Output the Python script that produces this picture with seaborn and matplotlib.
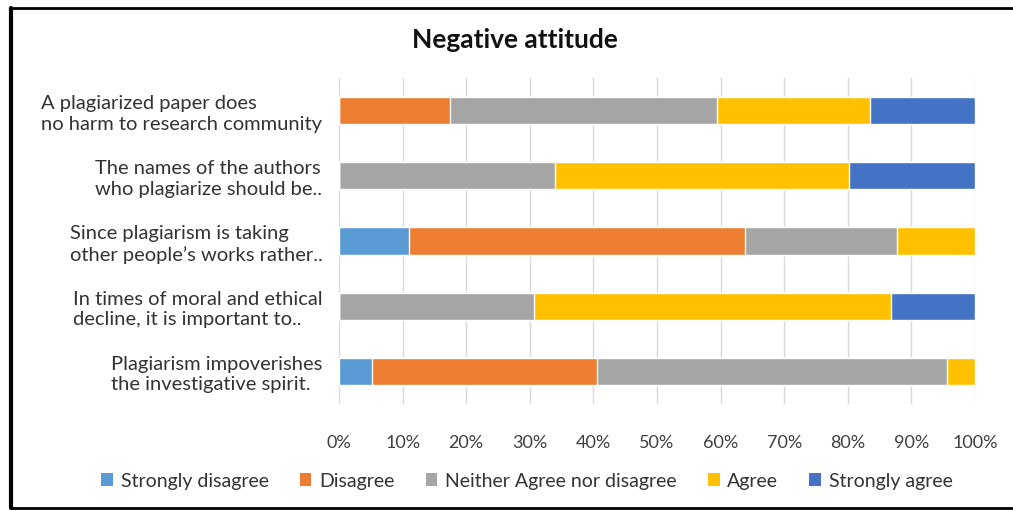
import numpy as np
import pandas as pd
import matplotlib
matplotlib.use("Agg")
import matplotlib.pyplot as plt
from matplotlib.lines import Line2D
from matplotlib.patches import Patch
import seaborn as sns

categories = [
    "A plagiarized paper does\nno harm to research community",
    "The names of the authors\nwho plagiarize should be..",
    "Since plagiarism is taking\nother people\u2019s works rather..",
    "In times of moral and ethical\ndecline, it is important to..",
    "Plagiarism impoverishes\nthe investigative spirit.",
]
series_names = ["Strongly disagree", "Disagree", "Neither Agree nor disagree", "Agree", "Strongly agree"]
strongly_disagree = [0.0, 0.0, 11.0, 0.0, 5.2]
disagree = [17.5, 0.0, 52.8, 0.0, 35.3]
neither = [41.9, 33.9, 24.0, 30.6, 55.1]
agree = [24.1, 46.3, 12.2, 56.2, 4.4]
strongly_agree = [16.5, 19.8, 0.0, 13.2, 0.0]
colors = ["#5B9BD5", "#ED7D31", "#A5A5A5", "#FFC000", "#4472C4"]
xticks = [0, 10, 20, 30, 40, 50, 60, 70, 80, 90, 100]
xtick_labels = [f"{t}%" for t in xticks]

sns.set_theme(style="white")
plt.rcParams['font.family'] = ['Lato', 'DejaVu Sans']

fig = plt.figure(figsize=(10.13, 5.11), dpi=100)
ax = fig.add_axes([339/1013, 1-404/511, (975-339)/1013, (404-78)/511])

values = np.array([strongly_disagree, disagree, neither, agree, strongly_agree])
cum = np.cumsum(values, axis=0)

for i in range(len(series_names) - 1, -1, -1):
    df = pd.DataFrame({"cat": categories, "val": cum[i]})
    sns.barplot(data=df, x="val", y="cat", orient="h", color=colors[i],
                saturation=1, width=0.42, ax=ax, order=categories, zorder=3)

ax.set_xlim(0, 100)
ax.set_xticks(xticks)
ax.set_xticklabels(xtick_labels, fontsize=13, color="#404040")
ax.set_xlabel("")
ax.set_ylabel("")
for lab in ax.get_yticklabels():
    lab.set_fontsize(14.5)
    lab.set_color("#333333")
    lab.set_multialignment("left")
    lab.set_linespacing(1.25)
ax.tick_params(axis="y", pad=12, length=0)
ax.tick_params(axis="x", pad=22, length=0)
ax.grid(axis="x", color="#D9D9D9", linewidth=1, zorder=0)
ax.set_axisbelow(True)
for s in ax.spines.values():
    s.set_visible(False)

fig.text(515/1013, 1-40/511, "Negative attitude", ha="center", va="center",
         fontsize=19, fontweight="bold", color="#111111")

handles = [Patch(facecolor=c, edgecolor="none") for c in colors]
fig.legend(handles, series_names, loc="center", bbox_to_anchor=(527/1013, 1-481/511),
           ncol=5, frameon=False, fontsize=14, handlelength=0.6, handleheight=0.6,
           handletextpad=0.4, columnspacing=1.6, labelcolor="#333333")

# border
fig.add_artist(Line2D([11/1013, 11/1013], [1-8/511, 1-508/511], transform=fig.transFigure, color="black", lw=3))
fig.add_artist(Line2D([11/1013, 1.0], [1-8/511, 1-8/511], transform=fig.transFigure, color="black", lw=2))
fig.add_artist(Line2D([11/1013, 1.0], [1-508/511, 1-508/511], transform=fig.transFigure, color="black", lw=2))

fig.savefig("out.png", dpi=100)
